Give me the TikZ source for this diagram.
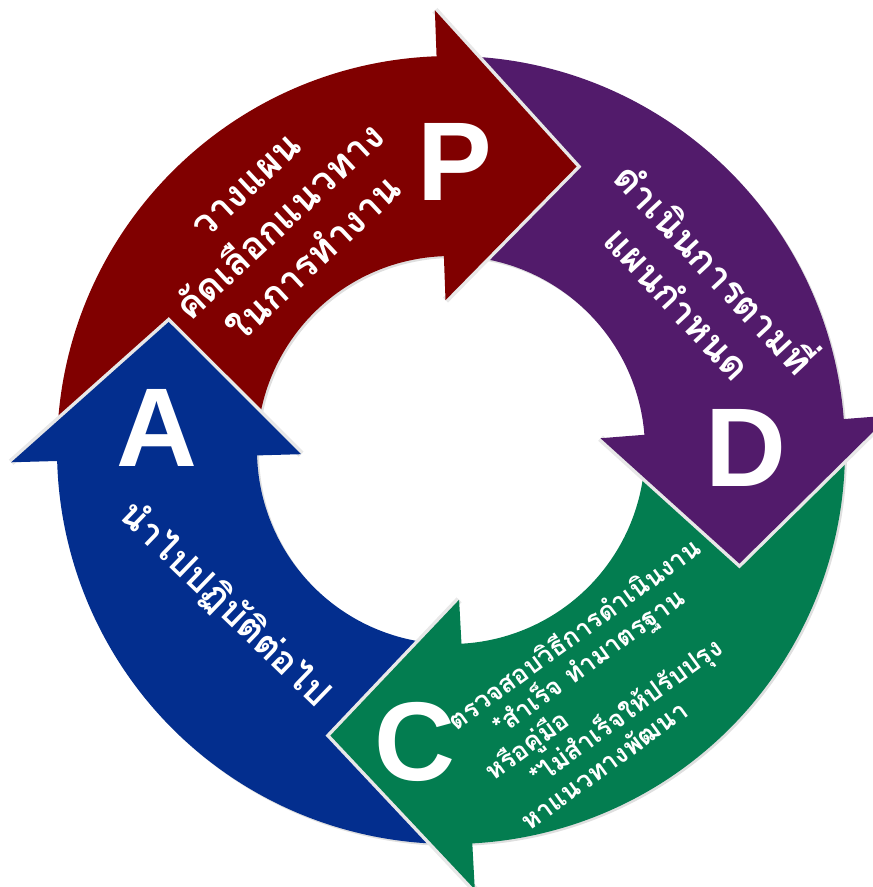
\documentclass[tikz,border=0pt]{standalone}
\usepackage{fontspec}
\setmainfont{Liberation Sans}
\newfontfamily\thaifont[Script=Thai]{Loma}
\usetikzlibrary{shadows}
\definecolor{planred}{RGB}{128,0,0}
\definecolor{dopurple}{RGB}{82,27,107}
\definecolor{checkgreen}{RGB}{3,125,80}
\definecolor{actblue}{RGB}{3,46,142}

\begin{document}
\begin{tikzpicture}[x=1pt, y=1pt,
    letter/.style={text=white, font=\fontsize{112}{112}\selectfont\bfseries},
    thai/.style={text=white, align=center, font=\thaifont\fontsize{38}{50}\selectfont\bfseries}]
    \useasboundingbox (-451,-437) rectangle (422,450);
    \foreach \from/\to/\col in {181.6/92.1/planred, 92.1/4.5/dopurple, 4.5/-86.9/checkgreen, -86.9/-178.4/actblue} {
        \fill[\col, drop shadow={shadow xshift=2pt, shadow yshift=-2pt, opacity=.25}] (\from-2:394) arc[start angle=\from-2, end angle=\to-1.5, radius=394] -- (\to-1.5:194) arc[start angle=\to-1.5, end angle=\from-2, radius=194] -- cycle;
    }
    \foreach \base/\col in {92.1/planred, 4.5/dopurple, -86.9/checkgreen, -178.4/actblue} {
        \fill[\col, preaction={draw=gray!18, line width=7pt}] (\base:440) -- (\base-26:310) -- (\base:150);
    }
    \node[letter] (P) at (89.2:288) {P};
    \node[letter] (D) at (0.4:295) {D};
    \node[letter] (C) at (-97:294) {C};
    \node[letter] (A) at (175.7:295) {A};
    \node[thai, rotate=43] (plan) at (126.8:283) {วางแผน\\คัดเลือกแนวทาง\\ในการทำงาน};
    \node[thai, rotate=-47] (do) at (34:300) {ดำเนินการตามที่\\แผนกำหนด};
    \node[thai, rotate=36, align=left, font=\thaifont\fontsize{26}{31}\selectfont\bfseries] (check) at (-55.7:282)
        {ตรวจสอบวิธีการดำเนินงาน\\\hspace*{33pt}*สำเร็จ ทำมาตรฐาน\\หรือคู่มือ\\\hspace*{33pt}*ไม่สำเร็จให้ปรับปรุง\\หาแนวทางพัฒนา};
    \node[thai, rotate=-44, font=\thaifont\fontsize{37}{50}\selectfont\bfseries] (act) at (214.4:274) {นำไปปฏิบัติต่อไป};
\end{tikzpicture}
\end{document}
